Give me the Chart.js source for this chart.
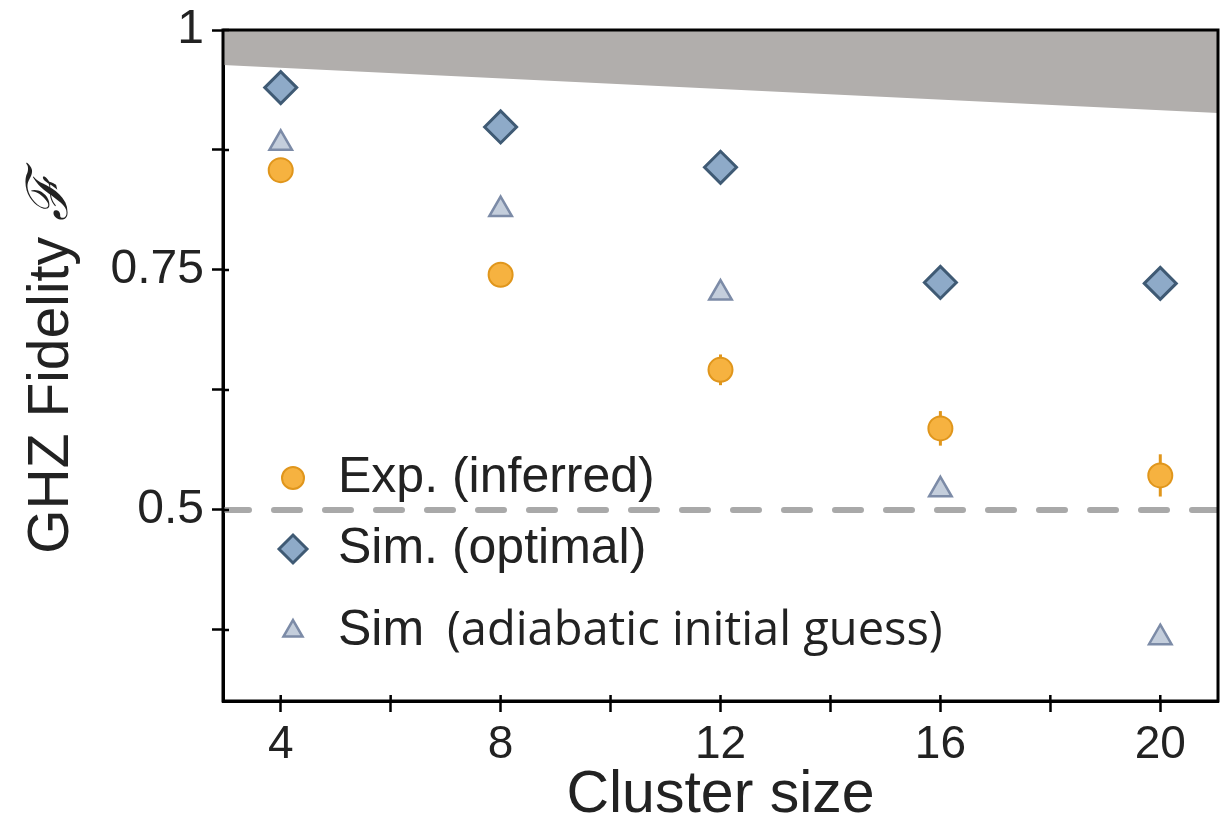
<!DOCTYPE html>
<html>
<head>
<meta charset="utf-8">
<script src="https://cdn.jsdelivr.net/npm/chart.js@4.4.1/dist/chart.umd.min.js"></script>
<style>
  html, body { margin: 0; padding: 0; background: #fff; }
  canvas { display: block; }
</style>
</head>
<body>
<canvas id="chart" width="1225" height="823"></canvas>
<script>
// --- data ---
const sizes = [4, 8, 12, 16, 20];
const expVals = [0.854, 0.745, 0.646, 0.585, 0.536];
const expErr = [0.004, 0.004, 0.016, 0.018, 0.022];
const optVals = [0.940, 0.899, 0.857, 0.737, 0.736];
const adiaVals = [0.882, 0.813, 0.726, 0.521, 0.367];
const bandX = [2.95, 21.05];
const bandY = [0.9635, 0.9135];
const refY = [0.5, 0.5];
const seriesLabels = ['Exp. (inferred)', 'Sim. (optimal)', 'Sim  (adiabatic initial guess)'];
const xMajor = [4, 8, 12, 16, 20];
const xMinor = [6, 10, 14, 18];
const yMajor = [0.5, 0.75, 1];
const yMinor = [0.375, 0.625, 0.875];
const yTickLabels = ['0.5', '0.75', '1'];

const SANS = "'Liberation Sans', Arial, Helvetica, sans-serif";
const orange = '#f6b240', orangeEdge = '#e0961c';
const blue = '#8eaac8', blueEdge = '#3f5a74';
const pale = '#c4cedc', paleEdge = '#7c8ba7';

const toPts = (xs, ys) => xs.map((x, i) => ({ x: x, y: ys[i] }));

// error bars, frame, inner ticks, legend and axis titles
const extras = {
  id: 'extras',
  beforeDatasetsDraw(chart) {
    const { ctx, scales: { x, y } } = chart;
    ctx.save();
    ctx.strokeStyle = orangeEdge;
    ctx.lineWidth = 3;
    sizes.forEach((s, i) => {
      const px = x.getPixelForValue(s);
      ctx.beginPath();
      ctx.moveTo(px, y.getPixelForValue(expVals[i] + expErr[i]));
      ctx.lineTo(px, y.getPixelForValue(expVals[i] - expErr[i]));
      ctx.stroke();
    });
    ctx.restore();
  },
  afterDraw(chart) {
    const { ctx, chartArea: a, scales: { x, y } } = chart;
    ctx.save();
    // frame
    ctx.strokeStyle = '#000';
    ctx.lineWidth = 3;
    ctx.strokeRect(a.left, a.top, a.right - a.left, a.bottom - a.top);
    // short inward tick stubs
    ctx.lineWidth = 2.5;
    ctx.beginPath();
    xMajor.concat(xMinor).forEach(v => {
      const px = x.getPixelForValue(v);
      ctx.moveTo(px, a.bottom); ctx.lineTo(px, a.bottom - 6);
    });
    yMajor.concat(yMinor).forEach(v => {
      const py = y.getPixelForValue(v);
      ctx.moveTo(a.left, py); ctx.lineTo(a.left + 6, py);
    });
    ctx.stroke();

    // legend
    const rows = [448, 519, 601];
    const metas = [2, 3, 4];
    const sizesLeg = [11, 14, 11];
    ctx.textBaseline = 'middle';
    metas.forEach((di, k) => {
      const ds = chart.data.datasets[di];
      const cy = a.top + rows[k];
      ctx.fillStyle = ds.pointBackgroundColor;
      ctx.strokeStyle = ds.pointBorderColor;
      ctx.lineWidth = ds.pointBorderWidth;
      Chart.helpers.drawPoint(ctx, {
        pointStyle: ds.pointStyle, radius: sizesLeg[k], rotation: 0,
        borderWidth: ds.pointBorderWidth
      }, a.left + 70, cy);
      ctx.fillStyle = '#222';
      const parts = seriesLabels[k].split('  ');
      ctx.font = '50px ' + SANS;
      ctx.fillText(parts[0], a.left + 115, cy);
      if (parts[1]) {
        ctx.font = "47px 'Open Sans', sans-serif";
        ctx.fillText(parts[1], a.left + 224, cy + 1);
      }
    });

    // y title
    ctx.translate(52, 364);
    ctx.rotate(-Math.PI / 2);
    ctx.fillStyle = '#222';
    ctx.font = '57px ' + SANS;
    const t1 = 'GHZ Fidelity ';
    const w1 = ctx.measureText(t1).width;
    ctx.font = "italic 57px 'DejaVu Serif', serif";
    const w2 = ctx.measureText('\u2131').width;
    const sx = -(w1 + w2) / 2;
    ctx.font = '57px ' + SANS;
    ctx.fillText(t1, sx, 0);
    ctx.font = "italic 57px 'DejaVu Serif', serif";
    ctx.fillText('\u2131', sx + w1, 0);
    ctx.restore();

    // x title
    ctx.save();
    ctx.fillStyle = '#222';
    ctx.font = '59px ' + SANS;
    ctx.textAlign = 'center';
    ctx.textBaseline = 'middle';
    ctx.fillText('Cluster size', (a.left + a.right) / 2, 796);
    ctx.restore();
  }
};

new Chart(document.getElementById('chart').getContext('2d'), {
  type: 'scatter',
  data: {
    datasets: [
      { label: 'band', type: 'line', data: toPts(bandX, bandY), fill: 'end',
        backgroundColor: '#b1aeac', borderWidth: 0, pointRadius: 0, order: 10 },
      { label: 'half', type: 'line', data: toPts(bandX, refY), fill: false,
        borderColor: '#a9a9a9', borderWidth: 6, borderDash: [26, 25], borderCapStyle: 'round',
        pointRadius: 0, order: 9 },
      { label: seriesLabels[0], data: toPts(sizes, expVals), pointStyle: 'circle',
        pointRadius: 12, pointBackgroundColor: orange, pointBorderColor: orangeEdge,
        pointBorderWidth: 2, order: 3 },
      { label: seriesLabels[1], data: toPts(sizes, optVals), pointStyle: 'rectRot',
        pointRadius: 16, pointBackgroundColor: blue, pointBorderColor: blueEdge,
        pointBorderWidth: 3, order: 1 },
      { label: seriesLabels[2], data: toPts(sizes, adiaVals), pointStyle: 'triangle',
        pointRadius: 13, pointBackgroundColor: pale, pointBorderColor: paleEdge,
        pointBorderWidth: 2.5, order: 2 }
    ]
  },
  options: {
    responsive: false,
    devicePixelRatio: 1,
    animation: false,
    layout: { autoPadding: false, padding: { top: 30, right: 7, left: 0, bottom: 0 } },
    plugins: { legend: { display: false }, tooltip: { enabled: false } },
    scales: {
      x: {
        type: 'linear', min: 2.95, max: 21.05,
        afterBuildTicks: s => { s.ticks = xMajor.concat(xMinor).sort((p, q) => p - q).map(v => ({ value: v })); },
        afterFit: s => { s.height = 122; s.paddingLeft = 0; s.paddingRight = 0; },
        ticks: {
          callback: v => xMajor.includes(v) ? String(v) : '',
          font: { family: SANS, size: 46 }, color: '#222', padding: 6, maxRotation: 0, autoSkip: false
        },
        grid: { drawOnChartArea: false, tickLength: 11, tickWidth: 2.5, tickColor: '#000' },
        border: { display: true, color: '#000', width: 3 }
      },
      y: {
        min: 0.301, max: 1,
        afterBuildTicks: s => { s.ticks = yMinor.concat(yMajor).sort((p, q) => p - q).map(v => ({ value: v })); },
        afterFit: s => { s.width = 223; s.paddingTop = 0; s.paddingBottom = 0; },
        ticks: {
          callback: v => { const i = yMajor.indexOf(v); return i >= 0 ? yTickLabels[i] : ''; },
          font: { family: SANS, size: 48 }, color: '#222', padding: 8, autoSkip: false
        },
        grid: { drawOnChartArea: false, tickLength: 11, tickWidth: 2.5, tickColor: '#000' },
        border: { display: true, color: '#000', width: 3 }
      }
    }
  },
  plugins: [extras]
});
</script>
</body>
</html>
